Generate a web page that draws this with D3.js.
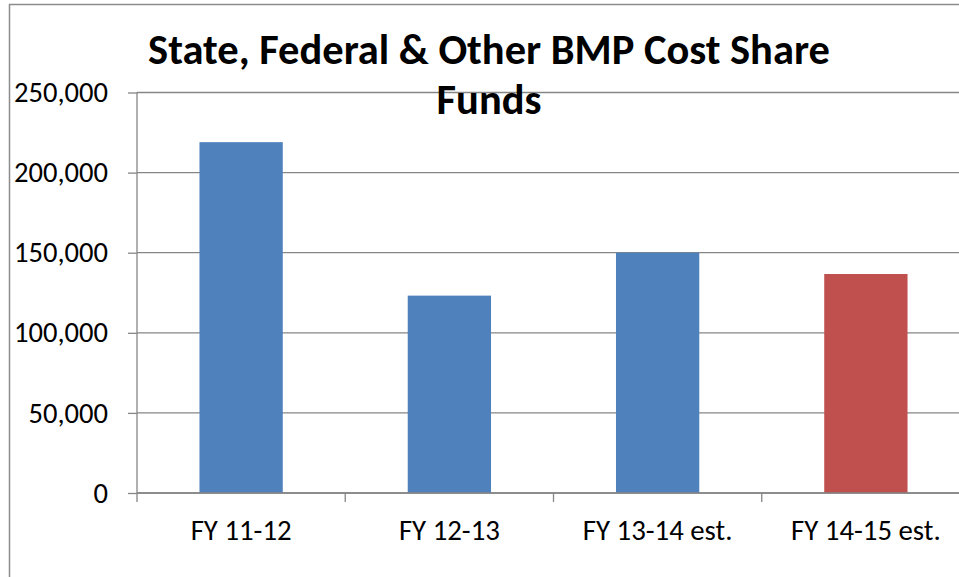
<!DOCTYPE html>
<html>
<head>
<meta charset="utf-8">
<script src="https://cdn.jsdelivr.net/npm/d3@7"></script>
<style>
  html, body { margin: 0; background: #fff; overflow: hidden; }
  svg { display: block; font-family: Carlito, Calibri, "Open Sans", sans-serif; }
</style>
</head>
<body>
<svg id="chart"></svg>
<script>
// data
const categories = ["FY 11-12", "FY 12-13", "FY 13-14 est.", "FY 14-15 est."];
const values = [219000, 123200, 150000, 136700];
const barColors = ["#4F81BD", "#4F81BD", "#4F81BD", "#C0504D"];
const yTicks = [0, 50000, 100000, 150000, 200000, 250000];
const titleLines = ["State, Federal & Other BMP Cost Share", "Funds"];

const width = 959, height = 577;
const margin = {top: 92.5, right: -11, bottom: 84, left: 137};
const innerW = width - margin.left - margin.right;
const innerH = height - margin.top - margin.bottom;

const svg = d3.select("#chart")
  .attr("width", width)
  .attr("height", height);

// outer chart frame: only its left and top edges are inside the picture
svg.append("path")
  .attr("d", `M9.5,${height}V4.5H${width}`)
  .attr("fill", "none")
  .attr("stroke", "#8c8c8c")
  .attr("stroke-width", 1.5);

const g = svg.append("g")
  .attr("transform", `translate(${margin.left},${margin.top})`);

const x = d3.scaleBand()
  .domain(categories)
  .range([0, innerW])
  .paddingInner(0.6)
  .paddingOuter(0.3);

const y = d3.scaleLinear()
  .domain([0, 250000])
  .range([innerH, 0]);

// gridlines
g.append("g")
  .selectAll("line")
  .data(yTicks)
  .join("line")
  .attr("x1", 0)
  .attr("x2", innerW)
  .attr("y1", d => y(d))
  .attr("y2", d => y(d))
  .attr("stroke", "#868686")
  .attr("stroke-width", 1.3);

// bars
g.append("g")
  .selectAll("rect")
  .data(values)
  .join("rect")
  .attr("x", (d, i) => x(categories[i]))
  .attr("y", d => y(d))
  .attr("width", x.bandwidth())
  .attr("height", d => innerH - y(d))
  .attr("fill", (d, i) => barColors[i]);

// y axis
const yAxis = g.append("g")
  .call(d3.axisLeft(y)
    .tickValues(yTicks)
    .tickFormat(d3.format(","))
    .tickSize(9)
    .tickPadding(20))
  .attr("font-family", null)
  .attr("font-size", null);
yAxis.select(".domain").attr("stroke", "#868686").attr("stroke-width", 1.3)
  .attr("d", `M0,0V${innerH}`);
yAxis.selectAll(".tick line").attr("stroke", "#868686").attr("stroke-width", 1.3);
yAxis.selectAll("text")
  .attr("fill", "#000")
  .style("font-size", "24px");

// x axis, ticks sit between categories
const step = x.step();
const xAxis = g.append("g")
  .attr("transform", `translate(0,${innerH})`);
xAxis.append("line")
  .attr("x1", 0).attr("x2", innerW)
  .attr("stroke", "#868686").attr("stroke-width", 1.3);
xAxis.selectAll(".xt")
  .data(d3.range(categories.length + 1))
  .join("line")
  .attr("class", "xt")
  .attr("x1", i => i * step)
  .attr("x2", i => i * step)
  .attr("y1", 0)
  .attr("y2", 9)
  .attr("stroke", "#868686").attr("stroke-width", 1.3);
xAxis.selectAll(".xl")
  .data(categories)
  .join("text")
  .attr("class", "xl")
  .attr("x", d => x(d) + x.bandwidth() / 2)
  .attr("y", 47)
  .attr("text-anchor", "middle")
  .style("font-size", "24px")
  .text(d => d);

// title
const title = svg.append("g")
  .selectAll("text")
  .data(titleLines)
  .join("text")
  .attr("x", 489)
  .attr("y", (d, i) => 64 + i * 50)
  .attr("text-anchor", "middle")
  .attr("font-weight", "bold")
  .style("font-size", "33px")
  .text(d => d);

// Calibri is not installed, so size the fallback font to the reference widths
function fitSize(node, target) {
  const w = node.getComputedTextLength();
  const fs = parseFloat(node.style.fontSize);
  return w > 0 ? fs * target / w : fs;
}
const titleSize = fitSize(title.nodes()[0], 682);
title.style("font-size", titleSize + "px");
const tickNode = yAxis.selectAll("text").filter(d => d === 250000).node();
const labelSize = fitSize(tickNode, 94);
yAxis.selectAll("text").style("font-size", labelSize + "px");
const xNode = xAxis.selectAll(".xl").node();
xAxis.selectAll(".xl").style("font-size", fitSize(xNode, 101) + "px");
</script>
</body>
</html>
